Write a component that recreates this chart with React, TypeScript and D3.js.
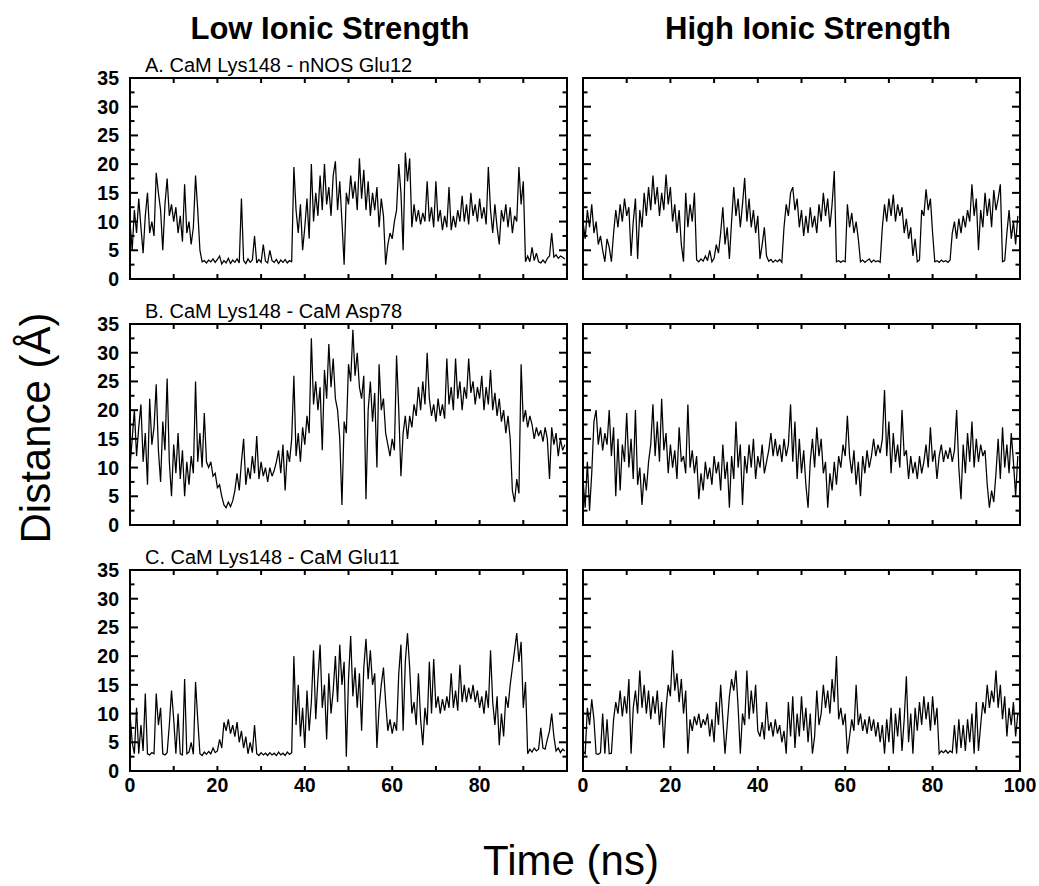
import React from "react";
import * as d3 from "d3";

// sampling interval of every trace (ns)
const TIME_STEP = 0.5;

// Low ionic strength, A. CaM Lys148 - nNOS Glu12
const lowA = [
  10, 5, 12, 8, 14, 9, 4.5, 11, 15, 8, 10, 7.5, 18.5, 15, 12, 5, 13, 17.5, 11, 13,
  10, 12.5, 8, 11, 6.5, 16.5, 8, 10, 6, 9, 18, 12, 5, 3, 3.2, 2.8, 3.3, 3, 3.5, 2.9,
  3.4, 4, 2.6, 3.2, 2.8, 3.6, 2.7, 3.3, 2.9, 3.5, 2.8, 14, 3.2, 2.7, 3.5, 2.9, 3.3, 7.5, 2.8, 3.4,
  2.9, 6, 3.1, 2.8, 5, 3.2, 2.9, 3.4, 2.7, 3.3, 2.9, 3.4, 2.8, 3.2, 3, 19.5, 12, 8, 13, 5,
  9, 14, 7, 20, 10, 15, 11, 18, 12, 20, 13, 16, 11, 18, 20.5, 12, 17, 10, 2.5, 15,
  13, 18, 14, 17, 12, 21, 14, 19, 12, 17, 11, 15, 12, 16, 9, 14, 11, 2.5, 6, 8,
  7, 10, 12, 20, 15, 5, 22, 17, 21, 9, 13, 10, 12, 9.5, 11.5, 10, 17, 10, 12.5, 9,
  17, 10, 12, 8.5, 11, 9, 16, 8.5, 11, 9, 12, 10, 14.5, 10, 13, 9.5, 15, 11, 13, 10,
  14, 10.5, 12.5, 9.5, 19.5, 12, 8, 13, 9, 6, 12, 10, 13, 9, 12.5, 8, 11, 10, 19.5, 13,
  17, 3, 4, 3, 5.5, 3.2, 4.5, 3, 2.8, 3.3, 2.8, 3.6, 4, 8, 3.8, 4.2, 3.6, 4, 3.8, 3.5,
];

// High ionic strength, A
const highA = [
  10, 7, 12, 9, 13, 8, 10, 6, 7.5, 5, 3, 7, 5.5, 3, 8, 12, 9, 13, 10, 14,
  11, 12.5, 4, 10, 14, 3.5, 12, 9, 15, 11, 16, 12, 18, 13, 16, 11, 15, 12, 18.2, 13,
  16, 10, 13, 8, 12, 6, 3, 15, 9, 13, 10, 15, 3.3, 3, 3.5, 3.1, 4, 3.2, 5, 3,
  3.6, 6, 4.5, 8, 12.5, 6, 9, 3.5, 10, 16, 11, 14, 9, 13, 17.6, 10, 14, 9, 12, 8,
  11, 3.5, 6, 9, 4, 3.1, 3.4, 2.9, 3.3, 3, 3.4, 2.9, 9, 13, 11, 15, 16, 12, 14, 9,
  12, 7.5, 11, 8, 12.5, 9, 11, 8, 13, 10, 15, 11, 14, 9, 13, 18.8, 3, 3.2, 2.9, 3.2,
  3, 13, 9, 11.5, 8, 10, 7, 3, 3.3, 2.9, 3.2, 3.5, 2.9, 3.3, 3, 3.2, 2.9, 9, 13, 10,
  14, 11, 14.7, 10, 13, 11, 12.5, 8, 10.5, 7, 9, 4, 7, 3, 3.3, 12, 11, 15.6, 12, 14,
  8, 3, 3.2, 2.9, 3.3, 3, 3.2, 2.9, 3.3, 8, 10, 7, 10.5, 8, 11, 9, 12, 10, 16.5, 11,
  14, 5, 12, 9, 15, 11, 14, 9, 15.5, 12, 14, 16.5, 3, 3.2, 8, 12, 7, 10, 6, 11,
];

// Low ionic strength, B. CaM Lys148 - CaM Asp78
const lowB = [
  10, 15, 20, 12, 17, 21, 11, 16, 7, 22, 14, 17, 24.5, 13, 7.5, 18, 13, 25.5, 11, 5,
  14, 9, 16, 8, 13, 5, 11, 7, 12, 9, 25, 11, 16, 10, 19.5, 11, 10, 11, 8.5, 9,
  6.5, 7, 5, 3.5, 3, 4, 3.2, 4.2, 6, 9, 6, 11, 15, 7, 10, 8, 12, 9, 15.5, 8,
  11, 8.5, 10, 7.5, 10, 8.5, 9.5, 11, 13, 9, 14, 6, 13, 11, 15, 26, 12, 16, 11, 17,
  14, 19, 16, 32.5, 21, 25, 20, 24, 13, 27, 22, 31.5, 24, 29, 22, 20, 15, 3.5, 18, 16,
  28, 25, 34, 26, 30, 24, 22, 26, 4.5, 20, 25, 18, 23, 10, 28, 20, 22, 16, 14, 12,
  15, 13, 29.5, 20, 8.5, 16, 19, 15, 19, 17, 21, 19, 24, 20, 25, 21, 30, 22, 19, 21,
  18, 22, 19, 21, 18.5, 29, 21, 24, 20, 29, 22, 25, 20, 24, 22, 29, 23, 25, 21, 24,
  22, 26, 20, 24, 21, 27, 20, 23, 19, 22, 18, 20, 16, 19, 15, 6, 4, 8, 5.5, 28,
  18, 20, 17, 19, 17.5, 15, 17, 15.5, 16.5, 14.5, 17, 15, 8, 17, 14, 16, 12, 15, 13, 14,
];

// High ionic strength, B
const highB = [
  8, 3, 11, 2.5, 9, 18, 20, 14, 17, 13, 16, 14, 20, 12, 17, 5, 15, 6, 14, 11,
  19.5, 10, 15, 8, 20, 7, 10, 3.5, 9, 6, 11, 14, 21, 12, 18, 11, 22, 13, 16, 9,
  14, 10, 13, 8, 17, 11, 12, 9, 21, 10, 13, 9, 12, 4.5, 9, 6, 11, 8, 10, 7,
  12, 9, 11, 6, 14, 8, 11, 3, 12, 8, 18, 10, 14, 3.5, 12, 9, 14, 10, 15, 8,
  12, 10, 14, 9, 11, 13, 16, 12, 15, 12, 14, 11, 15, 12, 14, 21, 11, 18, 8, 15,
  9, 13, 7, 3, 11, 15, 10, 17, 12, 15, 9, 11, 3, 9, 6, 11, 7, 12, 10, 14,
  12, 19, 12, 9, 13, 7, 11, 5, 12, 9, 13, 10, 12, 15, 12, 14, 12.5, 15, 23.5, 12,
  18, 9, 16, 11, 14, 10, 20, 12, 13, 8, 12, 9, 11, 8, 12, 9, 11, 14, 10, 17,
  11, 13, 8, 12, 14, 11, 13, 11.5, 13.5, 11, 13, 20, 10, 4.5, 14, 9, 16, 11, 18, 10,
  15, 11, 14, 12, 13, 7, 3, 6, 4, 9, 15, 8, 17, 10, 14, 9, 16, 11, 5, 12,
];

// Low ionic strength, C. CaM Lys148 - CaM Glu11
const lowC = [
  10, 5, 3, 11, 3, 8, 3.5, 13.5, 3, 2.8, 3.2, 3, 13.5, 8, 11, 3, 2.8, 3.2, 8, 14,
  9, 3, 10, 3, 2.8, 16, 3, 3.3, 5, 2.9, 15.5, 9, 3, 2.7, 3.3, 2.9, 3.4, 3, 4, 3.2,
  3.5, 5.5, 4, 8.5, 7, 9, 6.5, 8, 6, 8.5, 5, 7, 4, 6, 3, 5, 3.2, 8, 3, 2.7,
  3.2, 2.8, 3.1, 2.7, 3.2, 2.8, 3.1, 2.7, 3.3, 2.8, 3.1, 2.7, 3.3, 2.9, 3.2, 20, 8, 15, 6, 11,
  4, 14, 7, 12, 21, 9, 16, 22, 11, 15, 5.5, 17, 10, 14, 20, 12, 22, 15, 19, 2.5,
  16, 23.5, 13, 18, 11, 17, 7, 18, 23, 16, 21, 15, 17, 4, 11, 15, 18, 12, 7, 9,
  6.5, 8.5, 7, 17, 22, 7, 19, 24, 18, 10, 12, 8, 17, 9, 4.5, 11, 8, 19, 10, 19.5,
  11, 13, 10, 12.5, 10.5, 13, 11, 17, 11, 14, 10.5, 18.5, 12, 15, 12, 14.5, 12.5, 15, 12, 14,
  11, 13, 10, 14, 11, 21, 12, 8, 13, 4.5, 10, 6, 13, 11, 15, 18, 21, 24, 19, 22.5,
  11, 15.5, 3, 3.8, 3.3, 4, 3.5, 3.8, 7.5, 4, 3.8, 5.5, 7, 10, 6, 3.5, 4, 3.2, 3.8, 3.5,
];

// High ionic strength, C
const highC = [
  3.5, 3, 11, 8, 12.5, 9, 3, 2.9, 3.2, 10, 3, 9, 3, 3.1, 9, 12, 10, 14, 9.5, 13,
  10, 16, 3, 11, 14, 10, 17.5, 11, 15, 10, 14, 9, 13, 10, 14, 8, 12, 4, 11, 15,
  13, 21, 14, 17, 12, 16, 10, 14, 3, 9, 7, 9.5, 8, 10, 7.5, 9, 8, 10, 6, 9,
  5, 12, 8, 15, 9, 3, 8, 13, 16, 14, 17.5, 11, 3, 10, 8, 17.5, 9, 14, 10, 15,
  7, 6, 8.5, 5.5, 12, 7, 8.5, 6, 9, 6.5, 8, 5, 7, 3, 12, 6, 13, 4, 10, 6,
  13, 7, 11, 5, 10, 3, 6, 14, 8, 10, 15, 11, 14, 10, 16, 12, 20, 9, 11, 8,
  10, 3, 6, 9, 7, 15, 8, 10, 7, 9, 6.5, 9.5, 7, 9, 6, 8.5, 5, 8, 3, 9,
  5, 11, 3, 10, 6, 11, 3.5, 9, 16.5, 5, 10, 3, 11, 7, 12, 8, 13, 9, 12, 7,
  13, 8, 11, 3, 3.5, 3.2, 3.6, 3.1, 3.5, 3.2, 8, 3, 9, 4, 8, 3.5, 9, 5, 10, 3,
  12, 3.5, 8, 12, 10, 15, 11, 14, 12, 17.5, 11, 15, 9, 13, 6, 11, 8, 12, 6, 10,
];

const panelLabels = [
  "A. CaM Lys148 - nNOS Glu12",
  "B. CaM Lys148 - CaM Asp78",
  "C. CaM Lys148 - CaM Glu11",
];
const columnTitles = ["Low Ionic Strength", "High Ionic Strength"];
const yTickLabels = [0, 5, 10, 15, 20, 25, 30, 35];
const leftXTickLabels = [0, 20, 40, 60, 80];
const rightXTickLabels = [0, 20, 40, 60, 80, 100];
const rows = [
  { label: panelLabels[0], low: lowA, high: highA },
  { label: panelLabels[1], low: lowB, high: highB },
  { label: panelLabels[2], low: lowC, high: highC },
];

const W = 1039;
const H = 886;
const COL_X = [130, 583];
const PANEL_W = 437;
const ROW_Y = [78, 324, 570];
const PANEL_H = 201;
const FONT = "'Liberation Sans', Arial, Helvetica, sans-serif";

type PanelProps = {
  id: string;
  x0: number;
  y0: number;
  data: number[];
  showYLabels: boolean;
  xLabels: number[] | null;
};

function Panel({ id, x0, y0, data, showYLabels, xLabels }: PanelProps) {
  const xs = d3.scaleLinear().domain([0, 100]).range([x0, x0 + PANEL_W]);
  const ys = d3.scaleLinear().domain([0, 35]).range([y0 + PANEL_H, y0]);
  const line = d3
    .line<number>()
    .x((_, i) => xs(i * TIME_STEP))
    .y((d) => ys(d));
  const yMinor = d3.range(2.5, 35, 2.5);
  const xMinor = d3.range(10, 100, 10);
  const x1 = x0 + PANEL_W;
  const yb = y0 + PANEL_H;
  return (
    <g>
      <defs>
        <clipPath id={id}>
          <rect x={x0} y={y0} width={PANEL_W} height={PANEL_H} />
        </clipPath>
      </defs>
      <path
        d={line(data) || ""}
        fill="none"
        stroke="#000"
        strokeWidth={1.25}
        strokeLinejoin="miter"
        strokeMiterlimit={3}
        clipPath={`url(#${id})`}
      />
      {yMinor.map((v) => {
        const len = v % 5 === 0 ? 8 : 4.5;
        return (
          <g key={"y" + v}>
            <line x1={x0} x2={x0 + len} y1={ys(v)} y2={ys(v)} stroke="#000" strokeWidth={2} />
            <line x1={x1} x2={x1 - len} y1={ys(v)} y2={ys(v)} stroke="#000" strokeWidth={2} />
          </g>
        );
      })}
      {xMinor.map((v) => (
        <g key={"x" + v}>
          <line x1={xs(v)} x2={xs(v)} y1={y0} y2={y0 + 5} stroke="#000" strokeWidth={2} />
          <line x1={xs(v)} x2={xs(v)} y1={yb} y2={yb - 5} stroke="#000" strokeWidth={2} />
        </g>
      ))}
      <rect x={x0} y={y0} width={PANEL_W} height={PANEL_H} fill="none" stroke="#000" strokeWidth={2} />
      {showYLabels &&
        yTickLabels.map((v) => (
          <text
            key={"yl" + v}
            x={x0 - 11}
            y={ys(v)}
            dy="0.36em"
            textAnchor="end"
            fontSize={19.5}
            fontWeight="bold"
            fontFamily={FONT}
          >
            {v}
          </text>
        ))}
      {xLabels &&
        xLabels.map((v) => (
          <text
            key={"xl" + v}
            x={xs(v)}
            y={yb + 21}
            textAnchor="middle"
            fontSize={19.5}
            fontWeight="bold"
            fontFamily={FONT}
          >
            {v}
          </text>
        ))}
    </g>
  );
}

export default function App() {
  return (
    <svg
      width={W}
      height={H}
      viewBox={`0 0 ${W} ${H}`}
      style={{ position: "absolute", left: 0, top: 0, background: "#fff" }}
    >
      <rect x={0} y={0} width={W} height={H} fill="#fff" />
      {columnTitles.map((t, i) => (
        <text
          key={t}
          x={i === 0 ? 330 : 808}
          y={39}
          textAnchor="middle"
          fontSize={31}
          fontWeight="bold"
          fontFamily={FONT}
        >
          {t}
        </text>
      ))}
      {rows.map((r, ri) => (
        <g key={r.label}>
          <Panel
            id={`clip-l-${ri}`}
            x0={COL_X[0]}
            y0={ROW_Y[ri]}
            data={r.low}
            showYLabels={true}
            xLabels={ri === 2 ? leftXTickLabels : null}
          />
          <Panel
            id={`clip-h-${ri}`}
            x0={COL_X[1]}
            y0={ROW_Y[ri]}
            data={r.high}
            showYLabels={false}
            xLabels={ri === 2 ? rightXTickLabels : null}
          />
          <text x={145} y={ROW_Y[ri] - 6} fontSize={20} fontFamily={FONT}>
            {r.label}
          </text>
        </g>
      ))}
      <text
        transform="translate(50,428) rotate(-90)"
        textAnchor="middle"
        fontSize={42}
        fontFamily={FONT}
      >
        Distance (Å)
      </text>
      <text x={571} y={875} textAnchor="middle" fontSize={42} fontFamily={FONT}>
        Time (ns)
      </text>
    </svg>
  );
}
